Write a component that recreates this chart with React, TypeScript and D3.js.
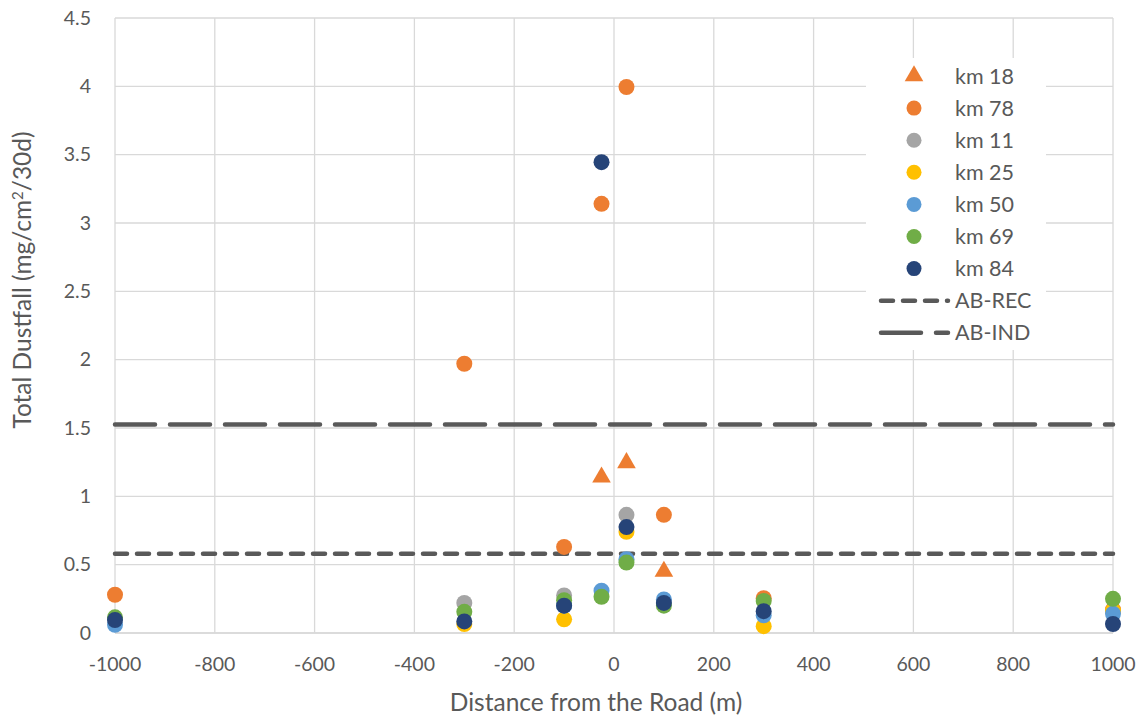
import React from "react";
import * as d3 from "d3";

const xTicks = [-1000, -800, -600, -400, -200, 0, 200, 400, 600, 800, 1000];
const yTicks = [0, 0.5, 1, 1.5, 2, 2.5, 3, 3.5, 4, 4.5];

const km18 = [
  { x: -25, y: 1.14 },
  { x: 25, y: 1.245 },
  { x: 100, y: 0.45 },
];
const km78 = [
  { x: -1000, y: 0.28 },
  { x: -300, y: 1.97 },
  { x: -100, y: 0.63 },
  { x: -25, y: 3.14 },
  { x: 25, y: 3.995 },
  { x: 100, y: 0.865 },
  { x: 300, y: 0.255 },
  { x: 1000, y: 0.17 },
];
const km11 = [
  { x: -300, y: 0.22 },
  { x: -100, y: 0.275 },
  { x: 25, y: 0.865 },
];
const km25 = [
  { x: -300, y: 0.065 },
  { x: -100, y: 0.1 },
  { x: 25, y: 0.74 },
  { x: 300, y: 0.05 },
  { x: 1000, y: 0.163 },
];
const km50 = [
  { x: -1000, y: 0.06 },
  { x: -100, y: 0.2 },
  { x: -25, y: 0.31 },
  { x: 25, y: 0.54 },
  { x: 100, y: 0.245 },
  { x: 300, y: 0.13 },
  { x: 1000, y: 0.14 },
];
const km69 = [
  { x: -1000, y: 0.115 },
  { x: -300, y: 0.155 },
  { x: -100, y: 0.24 },
  { x: -25, y: 0.265 },
  { x: 25, y: 0.515 },
  { x: 100, y: 0.2 },
  { x: 300, y: 0.235 },
  { x: 1000, y: 0.25 },
];
const km84 = [
  { x: -1000, y: 0.095 },
  { x: -300, y: 0.085 },
  { x: -100, y: 0.2 },
  { x: -25, y: 3.445 },
  { x: 25, y: 0.775 },
  { x: 100, y: 0.22 },
  { x: 300, y: 0.16 },
  { x: 1000, y: 0.066 },
];
const abRec = 0.58;
const abInd = 1.525;

const series = [
  { name: "km 18", data: km18, color: "#ED7D31", shape: "triangle" },
  { name: "km 78", data: km78, color: "#ED7D31", shape: "circle" },
  { name: "km 11", data: km11, color: "#A5A5A5", shape: "circle" },
  { name: "km 25", data: km25, color: "#FFC000", shape: "circle" },
  { name: "km 50", data: km50, color: "#5B9BD5", shape: "circle" },
  { name: "km 69", data: km69, color: "#70AD47", shape: "circle" },
  { name: "km 84", data: km84, color: "#264478", shape: "circle" },
];

const W = 1140;
const H = 717;
const left = 115;
const right = 1113;
const top = 18;
const bottom = 633;
const FONT = "Lato, 'Open Sans', sans-serif";
const TXT = "#595959";
const GRID = "#D9D9D9";

export default function App() {
  const x = d3.scaleLinear().domain([-1000, 1000]).range([left, right]);
  const y = d3.scaleLinear().domain([0, 4.5]).range([bottom, top]);
  const tri = d3.symbol().type(d3.symbolTriangle).size(150);
  const recDash = "12 10";
  const indDash = "40 15";

  const legendX = 914;
  const legendY0 = 76;
  const rowH = 32.1;

  return (
    <svg width={W} height={H} style={{ position: "absolute", left: 0, top: 0, background: "#fff" }}>
      <rect x={0} y={0} width={W} height={H} fill="#fff" />
      {yTicks.map((t) => (
        <line key={"gy" + t} x1={left} x2={right} y1={y(t)} y2={y(t)} stroke={GRID} strokeWidth={1.3} />
      ))}
      {xTicks.map((t) => (
        <line key={"gx" + t} x1={x(t)} x2={x(t)} y1={top} y2={bottom} stroke={GRID} strokeWidth={1.3} />
      ))}
      <line x1={left} x2={right} y1={bottom} y2={bottom} stroke={GRID} strokeWidth={1.5} />
      {yTicks.map((t) => (
        <text key={"ty" + t} x={91} y={y(t)} dy="0.35em" textAnchor="end" fontFamily={FONT} fontSize={19.5} fill={TXT}>
          {d3.format("~g")(t)}
        </text>
      ))}
      {xTicks.map((t) => (
        <text key={"tx" + t} x={x(t)} y={664} dy="0.35em" textAnchor="middle" fontFamily={FONT} fontSize={19.5} fill={TXT}>
          {t}
        </text>
      ))}
      <text x={596} y={702} dy="0.35em" textAnchor="middle" fontFamily={FONT} fontSize={24.5} fill={TXT}>
        Distance from the Road (m)
      </text>
      <text
        transform={`translate(22,${280}) rotate(-90)`}
        dy="0.35em"
        textAnchor="middle"
        fontFamily={FONT}
        fontSize={24.5}
        fill={TXT}
      >
        Total Dustfall (mg/cm<tspan dy="-8" fontSize={15}>2</tspan><tspan dy="8">/30d)</tspan>
      </text>

      <line x1={x(-1000)} x2={right} y1={y(abInd)} y2={y(abInd)} stroke="#595959" strokeWidth={4.5} strokeDasharray={indDash} strokeLinecap="round" />
      <line x1={x(-1000)} x2={right} y1={y(abRec)} y2={y(abRec)} stroke="#595959" strokeWidth={4.5} strokeDasharray={recDash} strokeLinecap="round" />

      {series.map((s) =>
        s.data.map((d, i) =>
          s.shape === "triangle" ? (
            <path key={s.name + i} d={tri() as string} transform={`translate(${x(d.x)},${y(d.y)})`} fill={s.color} />
          ) : (
            <circle key={s.name + i} cx={x(d.x)} cy={y(d.y)} r={8} fill={s.color} />
          )
        )
      )}

      <rect x={866} y={58} width={180} height={292} fill="#fff" />
      {series.map((s, i) => {
        const cy = legendY0 + i * rowH;
        return (
          <g key={"lg" + s.name}>
            {s.shape === "triangle" ? (
              <path d={tri() as string} transform={`translate(${legendX},${cy})`} fill={s.color} />
            ) : (
              <circle cx={legendX} cy={cy} r={7.5} fill={s.color} />
            )}
            <text x={955} y={cy} dy="0.35em" fontFamily={FONT} fontSize={21.5} fill={TXT}>
              {s.name}
            </text>
          </g>
        );
      })}
      {[
        { name: "AB-REC", dash: recDash },
        { name: "AB-IND", dash: indDash },
      ].map((l, i) => {
        const cy = legendY0 + (7 + i) * rowH;
        return (
          <g key={"ll" + l.name}>
            <line x1={881} x2={948} y1={cy} y2={cy} stroke="#595959" strokeWidth={4.5} strokeDasharray={l.dash} strokeLinecap="round" />
            <text x={955} y={cy} dy="0.35em" fontFamily={FONT} fontSize={21.5} fill={TXT}>
              {l.name}
            </text>
          </g>
        );
      })}
    </svg>
  );
}
